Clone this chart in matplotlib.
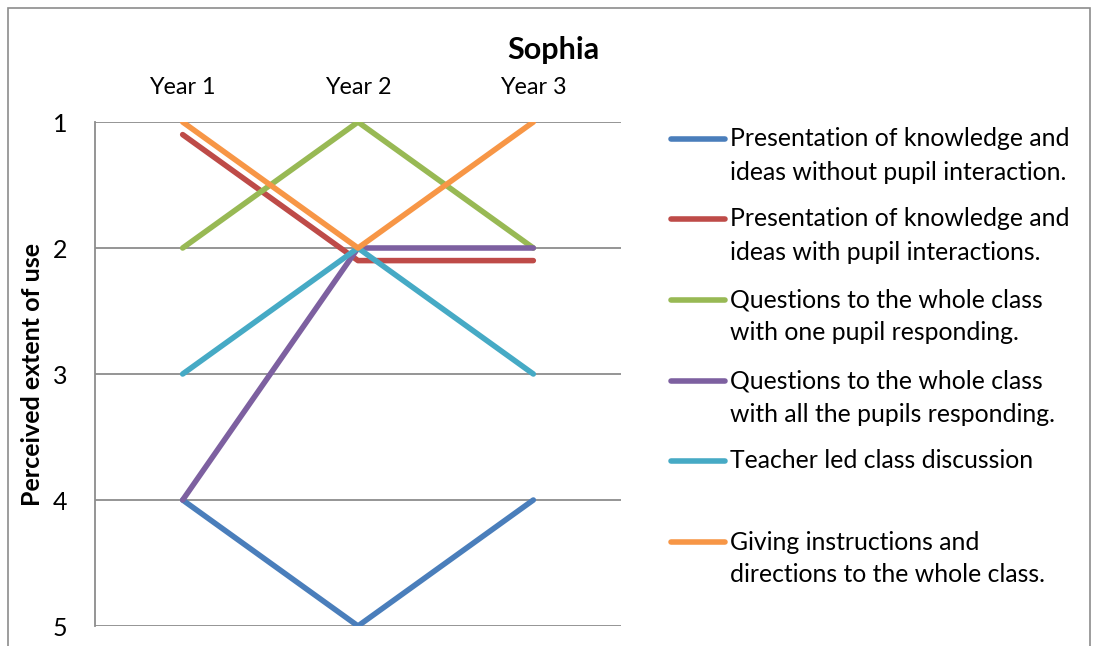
import matplotlib
matplotlib.use("Agg")
import matplotlib.pyplot as plt
from matplotlib.lines import Line2D
from matplotlib.patches import Rectangle

years = ["Year 1", "Year 2", "Year 3"]
labels = [
    "Presentation of knowledge and\nideas without pupil interaction.",
    "Presentation of knowledge and\nideas with pupil interactions.",
    "Questions to the whole class\nwith one pupil responding.",
    "Questions to the whole class\nwith all the pupils responding.",
    "Teacher led class discussion",
    "Giving instructions and\ndirections to the whole class.",
]
no_interaction = [4, 5, 4]
with_interaction = [1.1, 2.1, 2.1]
one_pupil = [2, 1, 2]
all_pupils = [4, 2, 2]
discussion = [3, 2, 3]
instructions = [1, 2, 1]
series = [no_interaction, with_interaction, one_pupil, all_pupils, discussion, instructions]
colors = ["#4A7EBB", "#BE4B48", "#98B954", "#7D60A0", "#46AAC5", "#F79646"]

plt.rcParams["font.family"] = ["Lato", "DejaVu Sans"]

W, H = 1096, 646
fig = plt.figure(figsize=(W / 100, H / 100), dpi=100)


def px(x):
    return x / W


def py(y):
    return 1 - y / H


# outer chart frame (bottom edge falls outside the picture)
fig.patches.append(Rectangle((px(8), py(700)), px(1082), 692 / H,
                             transform=fig.transFigure, fill=False,
                             edgecolor="#8c8c8c", lw=1.2))

ax = fig.add_axes([px(95), py(626), px(526), 504 / H])
x = range(len(years))
for vals, c in zip(series, colors):
    ax.plot(x, vals, color=c, lw=4, solid_capstyle="round", zorder=3)

ax.set_xlim(-0.5, 2.5)
ax.set_ylim(5, 1)
ax.set_yticks([1, 2, 3, 4, 5])
ax.set_xticks(list(x))
ax.set_xticklabels(years, fontsize=16.8)
ax.xaxis.tick_top()
ax.tick_params(axis="x", length=0, pad=17)
ax.tick_params(axis="y", length=0, pad=20, labelsize=18)
ax.grid(axis="y", color="#8c8c8c", lw=1.3)
ax.set_axisbelow(True)
for s in ["top", "right", "bottom"]:
    ax.spines[s].set_visible(False)
ax.spines["left"].set_color("#8c8c8c")
ax.spines["left"].set_linewidth(1.3)

fig.text(px(33), py(375), "Perceived extent of use", fontsize=18, fontweight="bold",
         rotation=90, ha="center", va="center")
fig.text(px(553), py(50), "Sophia", fontsize=22, fontweight="bold", ha="center", va="center")

# legend, one slot per series
handle_y = [139, 219, 300, 381, 461, 542]
for lab, c, hy in zip(labels, colors, handle_y):
    fig.add_artist(Line2D([px(671), px(725)], [py(hy), py(hy)], color=c, lw=4,
                          solid_capstyle="round", transform=fig.transFigure))
    for i, line in enumerate(lab.split("\n")):
        fig.text(px(730), py(hy + 33 * i), line, fontsize=17.8, ha="left", va="center")

fig.savefig("out.png", dpi=100)
